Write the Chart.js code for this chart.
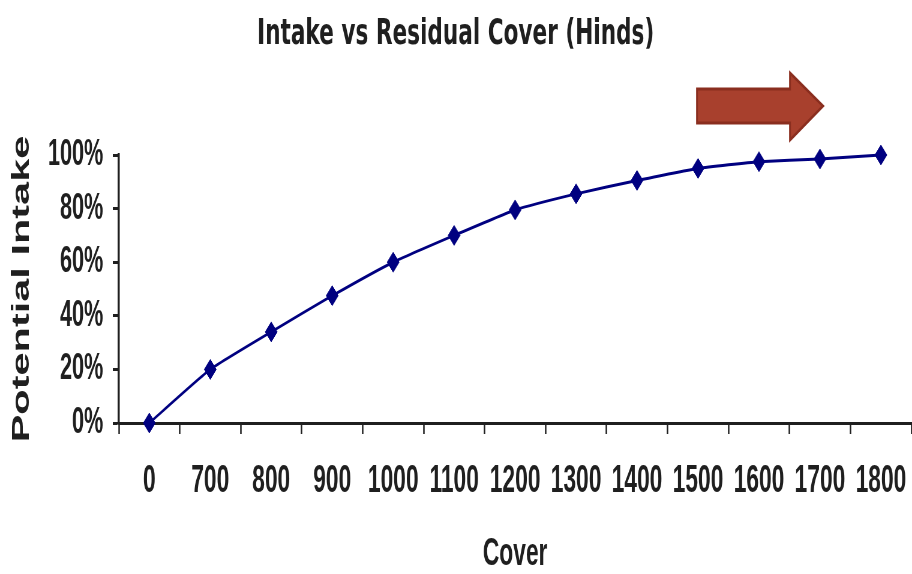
<!DOCTYPE html>
<html>
<head>
<meta charset="utf-8">
<title>Intake vs Residual Cover (Hinds)</title>
<script src="https://cdn.jsdelivr.net/npm/chart.js@4.4.1/dist/chart.umd.min.js"></script>
<style>
  html, body { margin: 0; padding: 0; background: #fff; overflow: hidden; }
  #wrap { width: 912px; height: 574px; overflow: hidden; }
  #intakeChart { display: block; transform-origin: 0 0; }
</style>
</head>
<body>
<div id="wrap"><canvas id="intakeChart"></canvas></div>
<script>
// Residual cover (kg DM/ha) and potential intake (% of max)
const coverLabels = ['0', '700', '800', '900', '1000', '1100', '1200', '1300', '1400', '1500', '1600', '1700', '1800'];
const intakePct = [0, 20, 34, 47.5, 60, 70, 79.5, 85.5, 90.5, 95, 97.5, 98.5, 100];
const yTickStep = 20;
const yMax = 100;

// The chart is drawn wide and squeezed horizontally, like the old slide it came from
const SQUISH = 0.6;
const PAGE_W = 912, PAGE_H = 574;
const canvas = document.getElementById('intakeChart');
canvas.width = Math.round(PAGE_W / SQUISH);
canvas.height = PAGE_H;
canvas.style.transform = 'scaleX(' + SQUISH + ')';

const ink = '#1f1f1f';

// Red "more cover" arrow above the curve
const arrowPlugin = {
    id: 'coverArrow',
    afterDraw(chart) {
        const ctx = chart.ctx;
        const sx = 1 / SQUISH;
        ctx.save();
        ctx.beginPath();
        ctx.moveTo(697 * sx, 89);
        ctx.lineTo(790 * sx, 89);
        ctx.lineTo(790 * sx, 73);
        ctx.lineTo(823 * sx, 106);
        ctx.lineTo(790 * sx, 140);
        ctx.lineTo(790 * sx, 123);
        ctx.lineTo(697 * sx, 123);
        ctx.closePath();
        ctx.fillStyle = '#a8402d';
        ctx.fill();
        ctx.lineWidth = 3;
        ctx.strokeStyle = '#8a2e1f';
        ctx.stroke();
        ctx.restore();
    }
};

new Chart(canvas.getContext('2d'), {
    type: 'line',
    data: {
        labels: coverLabels,
        datasets: [{
            label: 'Potential Intake',
            data: intakePct,
            borderColor: '#000080',
            borderWidth: 3,
            tension: 0.15,
            pointStyle: 'rectRot',
            pointRadius: 10,
            pointBackgroundColor: '#000080',
            pointBorderColor: '#000080',
            pointBorderWidth: 1,
            clip: false
        }]
    },
    options: {
        responsive: false,
        animation: false,
        devicePixelRatio: 1,
        layout: { autoPadding: false, padding: { left: 0, right: 1, top: 0, bottom: 0 } },
        plugins: {
            legend: { display: false },
            tooltip: { enabled: false },
            title: {
                display: true,
                text: 'Intake vs Residual Cover (Hinds)',
                color: ink,
                font: { family: 'DejaVu Sans', weight: 'bold', size: 36 },
                padding: { top: 13, bottom: 98.8 }
            }
        },
        scales: {
            x: {
                type: 'category',
                offset: true,
                grid: {
                    offset: true,
                    drawOnChartArea: false,
                    tickLength: 11,
                    tickWidth: 2.5,
                    tickColor: ink
                },
                border: { color: ink, width: 3 },
                ticks: {
                    color: ink,
                    font: { family: 'Liberation Sans', weight: 'bold', size: 38 },
                    padding: 25,
                    maxRotation: 0,
                    autoSkip: false
                },
                title: {
                    display: true,
                    text: 'Cover',
                    color: ink,
                    font: { family: 'Liberation Sans', weight: 'bold', size: 38 },
                    padding: { top: 0, bottom: -3 }
                },
                afterFit(scale) {
                    // labels sit inside their category slots, no side padding needed
                    scale.height = 151;
                    scale.paddingLeft = 0;
                    scale.paddingRight = 0;
                }
            },
            y: {
                min: 0,
                max: yMax,
                grid: {
                    drawOnChartArea: false,
                    tickLength: 10,
                    tickWidth: 3,
                    tickColor: ink
                },
                border: { color: ink, width: 3.5 },
                ticks: {
                    stepSize: yTickStep,
                    color: ink,
                    font: { family: 'Liberation Sans', weight: 'bold', size: 36 },
                    padding: 16,
                    callback: v => v + '%'
                },
                title: {
                    display: true,
                    text: 'Potential Intake',
                    color: ink,
                    font: { family: 'Liberation Sans', weight: 'bold', size: 41.5 },
                    padding: { top: 12, bottom: 0 }
                },
                afterFit(scale) { scale.width = 198; }
            }
        }
    },
    plugins: [arrowPlugin]
});
</script>
</body>
</html>
